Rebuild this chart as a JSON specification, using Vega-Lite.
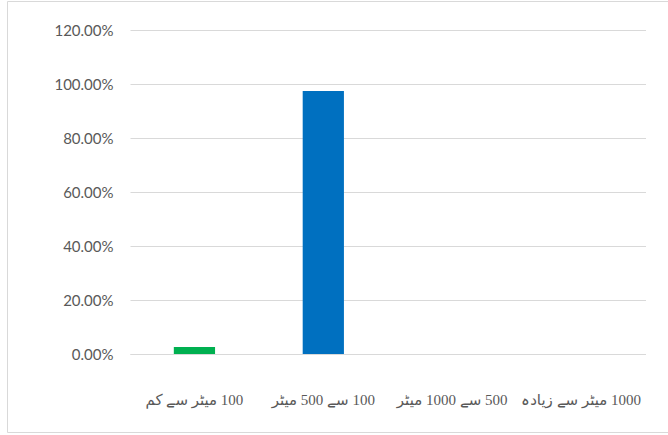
{
  "$schema": "https://vega.github.io/schema/vega-lite/v6.json",
  "autosize": {"type": "none"},
  "padding": {"left": 7, "top": 1, "right": 0, "bottom": 3},
  "width": 661,
  "height": 431,
  "background": "white",
  "config": {
    "view": {"stroke": "#d9d9d9", "strokeWidth": 1, "fill": "white"}
  },
  "data": {
    "values": [
      {"distance": "‫100 میٹر سے کم‬", "share": 0.026},
      {"distance": "‫100 سے 500 میٹر‬", "share": 0.974},
      {"distance": "‫500 سے 1000 میٹر‬", "share": 0},
      {"distance": "‫1000 میٹر سے زیادہ‬", "share": 0}
    ]
  },
  "mark": {"type": "bar"},
  "encoding": {
    "x": {
      "field": "distance",
      "type": "nominal",
      "sort": null,
      "scale": {"range": [123, 638.5], "paddingInner": 0.68, "paddingOuter": 0.34},
      "axis": {
        "title": null,
        "orient": "bottom",
        "offset": -78,
        "labelAngle": 0,
        "ticks": false,
        "tickSize": 0,
        "grid": false,
        "domain": true,
        "domainColor": "#d9d9d9",
        "domainWidth": 1,
        "labelPadding": 50,
        "labelBaseline": "alphabetic",
        "labelFont": "Liberation Serif, DejaVu Sans",
        "labelFontSize": 15,
        "labelColor": "#595959",
        "labelLimit": 200
      }
    },
    "y": {
      "field": "share",
      "type": "quantitative",
      "scale": {"domain": [0, 1.2], "nice": false, "range": [353, 29]},
      "axis": {
        "title": null,
        "orient": "left",
        "offset": -106,
        "values": [0, 0.2, 0.4, 0.6, 0.8, 1.0, 1.2],
        "format": ".2%",
        "ticks": false,
        "tickSize": 0,
        "domain": false,
        "grid": true,
        "gridColor": "#d9d9d9",
        "gridWidth": 1,
        "labelPadding": 0,
        "labelFont": "Lato",
        "labelFontSize": 15,
        "labelColor": "#595959"
      }
    },
    "color": {
      "field": "distance",
      "type": "nominal",
      "scale": {
        "domain": ["‫100 میٹر سے کم‬", "‫100 سے 500 میٹر‬", "‫500 سے 1000 میٹر‬", "‫1000 میٹر سے زیادہ‬"],
        "range": ["#00b050", "#0070c0", "#0070c0", "#0070c0"]
      },
      "legend": null
    }
  }
}
